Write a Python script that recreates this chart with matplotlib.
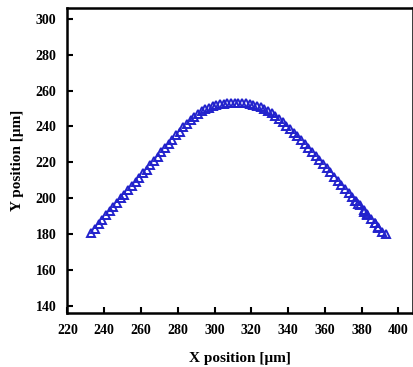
import numpy as np
import matplotlib
matplotlib.use('Agg')
import matplotlib.pyplot as plt

# trajectory (um)
x_pos = [233, 235, 237, 239, 241, 243, 245, 247, 249, 251, 253, 255, 257, 259,
         261, 263, 265, 267, 269, 271, 273, 275, 277, 279, 281, 283, 285, 287,
         289, 291, 293, 295, 297, 299, 301, 303, 305, 307, 309, 311, 313, 315,
         317, 319, 321, 323, 325, 327, 329, 331, 333, 335, 337, 339, 341, 343,
         345, 347, 349, 351, 353, 355, 357, 359, 361, 363, 365, 367, 369, 371,
         373, 375, 377, 379, 381, 383, 385, 387, 389, 391, 393,
         376.5, 378, 381.5, 383, 387.5, 389]
y_pos = [180.5, 183, 185.5, 188, 190.5, 193, 195, 197.5, 200, 202, 204.5, 207,
         209, 211.5, 214, 216, 218.5, 221, 223, 225.5, 228, 230, 232.5, 235,
         237, 239.5, 241.5, 243.5, 245.5, 247, 248.5, 249.5, 250.5, 251.3, 252,
         252.5, 252.8, 253, 253.2, 253.3, 253.3, 253.2, 253, 252.7, 252.2,
         251.5, 250.7, 249.8, 248.7, 247.4, 246, 244.3, 242.5, 240.5, 238.5,
         236.5, 234.5, 232.3, 230, 227.8, 225.6, 223.5, 221.2, 219, 216.7,
         214.4, 212, 209.8, 207.5, 205.3, 203, 200.8, 198.4, 196, 193.5, 191,
         188.5, 186, 183.5, 181.2, 180,
         198.5, 197, 192.5, 190.8, 186, 184]

xticks = [220, 240, 260, 280, 300, 320, 340, 360, 380, 400]
yticks = [140, 160, 180, 200, 220, 240, 260, 280, 300]

plt.rcParams['font.family'] = 'Liberation Serif'
plt.rcParams['font.weight'] = 'bold'

fig = plt.figure(figsize=(4.14, 3.67), dpi=100)
ax = fig.add_axes([0.163, 0.147, 0.835, 0.831])

ax.plot(x_pos, y_pos, linestyle='none', marker='^', markersize=6,
        markerfacecolor='none', markeredgecolor='#2222cc', markeredgewidth=1.4)

ax.set_xlim(220, 408)
ax.set_ylim(136, 306)
ax.set_xticks(xticks)
ax.set_yticks(yticks)
ax.tick_params(direction='in', length=4, width=1.5, labelsize=10, pad=8)
for lab in ax.get_xticklabels() + ax.get_yticklabels():
    lab.set_fontweight('bold')
for s in ax.spines.values():
    s.set_linewidth(1.8)

ax.set_xlabel('X position [μm]', fontsize=11, fontweight='bold', labelpad=11)
ax.set_ylabel('Y position [μm]', fontsize=11, fontweight='bold', labelpad=8)

fig.savefig('out.png', dpi=100)
